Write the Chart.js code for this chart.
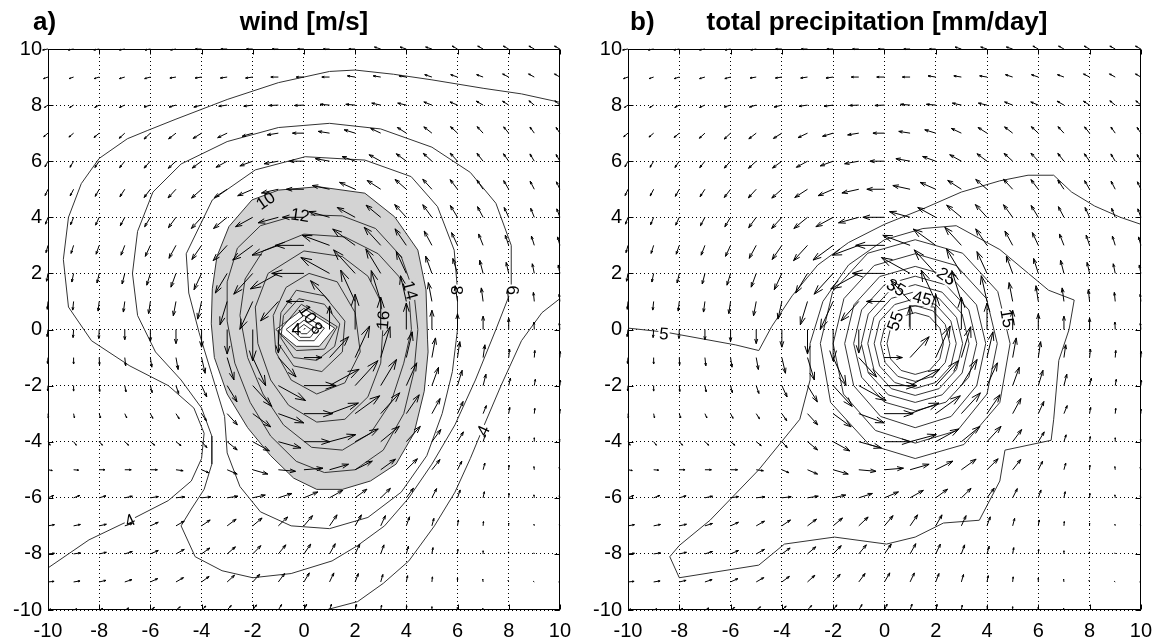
<!DOCTYPE html>
<html>
<head>
<meta charset="utf-8">
<script src="https://cdn.jsdelivr.net/npm/chart.js@4.4.0/dist/chart.umd.min.js"></script>
<style>
  body { margin: 0; background: #fff; }
  canvas { position: absolute; top: 0; }
  #panelA { left: 0; }
  #panelB { left: 580px; }
</style>
</head>
<body>
<canvas id="panelA" width="580" height="643"></canvas>
<canvas id="panelB" width="581" height="643"></canvas>
<script>
// tick labels / quiver grid
const tickValues = [-10, -8, -6, -4, -2, 0, 2, 4, 6, 8, 10];
const gridX = [-10, -9, -8, -7, -6, -5, -4, -3, -2, -1, 0, 1, 2, 3, 4, 5, 6, 7, 8, 9, 10];
const gridY = [10, 9, 8, 7, 6, 5, 4, 3, 2, 1, 0, -1, -2, -3, -4, -5, -6, -7, -8, -9, -10];

// wind components [m/s], rows = gridY (top to bottom), columns = gridX
const windU = [
  [-3, -3, -3, -3, -3, -3, -3.5, -3.5, -3.5, -3.5, -3.5, -3.5, -3.5, -3.5, -3.5, -3.5, -3, -3, -3, -3, -3],
  [-2.5, -2.5, -2.8, -3, -3.2, -3.4, -3.6, -3.8, -4, -4.2, -4.3, -4.3, -4.3, -4.2, -4.1, -4, -3.8, -3.6, -3.4, -3.2, -3],
  [-2, -2.2, -2.5, -3, -3.5, -3.8, -4.3, -4.7, -5, -5.2, -5.3, -5.3, -5.2, -5, -4.8, -4.5, -4.2, -3.8, -3.4, -3, -2.8],
  [-2.4, -2.6, -2.9, -3.1, -3.5, -4.1, -4.7, -5.3, -5.9, -6.2, -6.4, -6.3, -6.1, -5.6, -5, -4.5, -3.9, -3.3, -2.8, -2.4, -2.1],
  [-1.7, -2, -2.4, -2.9, -3.5, -4.3, -5.2, -6.2, -7.2, -7.9, -8.1, -7.9, -7.3, -6.5, -5.6, -4.8, -4.1, -3.4, -2.9, -2.4, -2.1],
  [-1.6, -1.9, -2.2, -2.7, -3.5, -4.4, -5.6, -7.1, -8.4, -9.4, -9.8, -9.6, -8.7, -7.6, -6.3, -5.1, -4.1, -3.4, -2.8, -2.3, -1.9],
  [-1.4, -1.7, -2, -2.5, -3.2, -4.2, -5.7, -7.6, -9.6, -11.3, -12, -11.5, -10, -8.2, -6.5, -5.1, -4, -3.1, -2.5, -2, -1.7],
  [-1.1, -1.4, -1.7, -2.1, -2.8, -3.9, -5.4, -7.8, -11.2, -14.7, -16, -15.2, -12.5, -9.2, -6.3, -4.3, -3.3, -2.5, -1.9, -1.6, -1.3],
  [-0.8, -1, -1.2, -1.5, -2, -2.8, -4.2, -6.6, -10.6, -15.6, -18, -16, -12, -8.3, -5.6, -3.5, -2.6, -1.9, -1.4, -1.1, -0.9],
  [-0.4, -0.5, -0.6, -0.8, -1, -1.5, -2.2, -4, -7.2, -9.9, -10, -10.6, -8.1, -5.3, -3.2, -2, -1.3, -1, -0.7, -0.5, -0.4],
  [-0.5, -0.3, -0.2, 0, 0, 0, 0, 0, 0, 0, 0.5, 0, 0, 0, 0, 0, 0, 0, 0, -0.2, -0.3],
  [-0.3, 0, 0.2, 0.5, 0.8, 1.2, 2, 3.8, 7.2, 9.9, 10, 10.6, 8.1, 5.2, 3.3, 2, 1.3, 1, 0.5, 0.3, 0.2],
  [-0.2, 0, 0.3, 0.7, 1, 1.5, 2.9, 5.5, 10.6, 15.2, 18, 16.5, 12.7, 8.8, 5.8, 3.7, 2.6, 1.6, 1, 0.6, 0.3],
  [0.2, 0.5, 0.8, 1.1, 1.4, 1.8, 2.7, 5.7, 10, 14.2, 16, 16.1, 13.7, 10.6, 7.2, 4.6, 3.1, 1.8, 0.6, 0.3, 0.1],
  [1.2, 1.5, 1.8, 2.1, 2.4, 2.8, 3, 5.6, 9.3, 12.6, 14.5, 14.6, 12.9, 10.4, 7.8, 5, 3.3, 1.2, 0.4, 0, -0.2],
  [2.4, 2.8, 3.2, 3.6, 3.9, 4, 4, 5.6, 8.4, 9.6, 10.6, 10.6, 9.6, 8.2, 6.2, 4.5, 2.4, 1, 0.2, -0.2, -0.4],
  [3.2, 3.5, 3.8, 4.2, 4.5, 4.8, 5.2, 6, 7, 7.6, 7.8, 7.4, 6.6, 5.4, 4, 2.6, 1.5, 0.7, 0.2, -0.2, -0.4],
  [3.6, 3.8, 4, 4.2, 4.4, 4.6, 4.8, 5, 5.2, 5.2, 4.8, 4.2, 3.5, 2.6, 1.8, 1.1, 0.5, 0.2, 0, -0.2, -0.4],
  [3.6, 3.8, 4, 4.2, 4.4, 4.6, 4.6, 4.6, 4.5, 4.2, 3.8, 3.2, 2.6, 1.8, 1.2, 0.6, 0.2, 0, -0.1, -0.2, -0.3],
  [3.4, 3.6, 3.8, 4, 4.1, 4.2, 4.2, 4.1, 3.9, 3.5, 3, 2.4, 1.8, 1.2, 0.7, 0.3, 0, -0.2, -0.3, -0.5, -0.6],
  [1.5, 1.8, 2, 2.2, 2.3, 2.4, 2.4, 2.3, 2.1, 1.8, 1.5, 1.1, 0.8, 0.5, 0.2, 0, -0.1, -0.2, -0.3, -0.4, -0.5]
];
const windV = [
  [-0.5, -0.5, -0.5, -0.5, -0.5, -0.5, 0, 0, 0, 0, 0, 0, 0, 1, 1, 1, 1.5, 1.5, 1.5, 1.5, 1.5],
  [-0.8, -0.8, -0.8, -0.8, -0.8, -0.5, -0.5, -0.5, -0.5, 0, 0, 0, 0.6, 0.6, 0.6, 1.2, 1.2, 1.2, 1.6, 1.6, 1.6],
  [-1.2, -1.2, -1.2, -1.2, -1, -1, -1, -0.6, -0.6, -0.2, -0.2, 0.4, 0.4, 1, 1, 1.6, 1.6, 2, 2, 2.2, 2.2],
  [-1.8, -2, -2.2, -2.6, -3, -2.9, -2.7, -2.3, -1.6, -0.9, 0, 0.9, 1.7, 2.4, 2.9, 3.2, 3.3, 3.3, 3.2, 3.1, 2.9],
  [-2.9, -3.1, -3.2, -3.3, -3.5, -3.6, -3.5, -3.1, -2.4, -1.3, 0, 1.3, 2.4, 3.3, 3.8, 4, 4.1, 4, 3.8, 3.7, 3.4],
  [-3.2, -3.4, -3.6, -3.8, -4.2, -4.4, -4.5, -4.2, -3.3, -1.9, 0, 1.9, 3.5, 4.5, 5, 5.1, 4.9, 4.7, 4.4, 4.1, 3.8],
  [-3.5, -3.8, -4, -4.3, -4.8, -5.3, -5.7, -5.7, -4.8, -2.8, 0, 2.9, 5, 6.2, 6.5, 6.4, 6, 5.4, 5, 4.6, 4.3],
  [-3.7, -4.1, -4.5, -5, -5.6, -6.6, -7.2, -7.8, -7.5, -5, 0, 5.1, 8.3, 9.2, 8.4, 7.3, 6.5, 5.8, 5.2, 4.7, 4.3],
  [-4, -4.4, -4.9, -5.4, -6, -7, -8.3, -10, -10.6, -7.9, 0, 8.1, 12, 12.5, 11.1, 8.8, 7.6, 6.7, 5.6, 4.9, 4.3],
  [-4, -4.4, -4.9, -5.4, -6.2, -7.3, -9, -11.9, -14.2, -9.9, 0, 10.6, 16, 15.7, 13.1, 9.6, 8, 6.9, 6, 4.6, 3.7],
  [-3.6, -4.1, -4.6, -5.2, -6, -7.2, -9, -12.5, -16, -12, 0.5, 12, 18, 16.5, 13.5, 9.8, 8, 6.8, 5.8, 3.8, 3.3],
  [-3, -3.3, -3.7, -4.2, -4.9, -6.1, -8, -11.4, -14.3, -9.9, 0, 10.6, 16.1, 15.7, 13.1, 10, 8.1, 6.5, 4.3, 3.6, 3.1],
  [-2.6, -2.8, -3, -3.2, -3.6, -4, -5.8, -8.3, -10.6, -7.6, 0, 8.3, 12.7, 13.3, 11.6, 9.3, 7.8, 5.8, 3.8, 3.2, 2.7],
  [-2.3, -2.2, -2.1, -2.2, -2.4, -2.6, -3.6, -5.7, -6.7, -4.7, 0, 5.4, 9.1, 10.6, 9.6, 7.7, 6.2, 4.1, 3.2, 2.7, 2.3],
  [-1.8, -1.8, -1.8, -1.8, -1.8, -2, -3, -4.2, -4.7, -3.2, 0, 3.6, 6.5, 7.8, 7.8, 6.2, 5, 3.5, 2.6, 2, 1.6],
  [-0.4, -0.2, 0, 0, 0, -0.5, -1.5, -2.2, -2.2, -0.8, 0.8, 2.8, 4.4, 5.4, 5.6, 5.2, 4.4, 3.4, 2.3, 1.6, 1.1],
  [1.2, 1.2, 1, 0.8, 0.6, 0.5, 0.5, 0.8, 1.4, 2.2, 3, 3.8, 4.4, 4.8, 4.9, 4.7, 4, 3.1, 2.2, 1.5, 1],
  [0.6, 0.7, 0.8, 1.2, 1.8, 2.4, 3, 3.4, 4, 4.5, 5.2, 5.6, 5.6, 5.2, 4.6, 3.8, 3, 2.2, 1.4, 0.8, 0.5],
  [0.3, 0.5, 0.8, 1.2, 1.7, 2.3, 3, 3.6, 4.2, 4.6, 5, 5.2, 5, 4.6, 3.9, 3.2, 2.4, 1.6, 1, 0.5, 0.3],
  [0.3, 0.5, 0.8, 1.2, 1.7, 2.2, 2.8, 3.4, 3.9, 4.3, 4.6, 4.6, 4.3, 3.8, 3.2, 2.6, 2, 1.4, 0.8, 0.3, 0],
  [0.5, 0.6, 0.8, 1, 1.3, 1.6, 2, 2.3, 2.6, 2.8, 3, 3, 2.8, 2.5, 2.1, 1.7, 1.3, 0.9, 0.5, 0.2, 0]
];

// wind speed contours (panel a), [x, y]
const wind4a = [[-10, -8.5], [-8.4, -7.5], [-6.8, -6.8], [-5.3, -6.1], [-4.4, -5.4], [-4, -4.6], [-3.9, -3.7], [-4.3, -2.8], [-5.3, -2], [-6.8, -1.3], [-8.3, -0.4], [-9.2, 0.8], [-9.4, 2.5], [-9.2, 4], [-8.7, 5.2], [-8, 6.1], [-6.9, 6.8], [-6.1, 7.1], [-5, 7.5], [-3, 8.2], [-1, 8.8], [1, 9.2], [2, 9.25], [3.5, 9.1], [5, 8.9], [7, 8.6], [8.5, 8.4], [10, 8.1]];
const wind4b = [[0.85, -10], [2.1, -9.7], [3.1, -9.05], [4.1, -8.25], [5.1, -7], [5.9, -5.8], [6.5, -4.6], [7, -3.5], [7.7, -2], [8.5, -0.4], [9.3, 0.6], [10, 1.1]];
const wind6 = [[-4.8, -7], [-4.25, -8.1], [-3.2, -8.6], [-2, -8.85], [-0.5, -8.7], [1.1, -8.25], [2.1, -7.7], [3.15, -7], [4.1, -6], [5, -4.8], [5.9, -3.4], [6.7, -1.8], [7.5, 0], [8.1, 1.4], [8.1, 3], [7.5, 4.5], [6.5, 5.6], [5, 6.5], [3, 7.15], [1, 7.35], [-1, 7.2], [-3, 6.7], [-4.8, 5.9], [-5.9, 4.9], [-6.5, 3.5], [-6.7, 2], [-6.5, 0.5], [-5.8, -0.8], [-4.8, -1.8], [-4, -2.8], [-3.6, -3.8], [-3.6, -4.8], [-3.9, -5.7], [-4.4, -6.4], [-4.8, -7]];
const wind8 = [[-4.6, 2.7], [-3.58, 4.62], [-1.9, 5.69], [0.05, 6.16], [2.38, 6.04], [4.19, 5.45], [5.22, 4.38], [5.87, 2.83], [6, 1.4], [6, 0], [5.8, -1.5], [5.4, -3], [4.8, -4.5], [3.8, -5.8], [2.5, -6.7], [1, -7.1], [-0.5, -7], [-1.7, -6.5], [-2.5, -5.6], [-3, -4.4], [-3.1, -3.1], [-3.6, -1.6], [-4.1, -0.1], [-4.5, 1.3], [-4.6, 2.7]];
const wind10 = [[0.56, 5.09], [-0.99, 4.97], [-2.03, 4.62], [-2.93, 3.67], [-3.4, 2.6], [-3.58, 1.45], [-3.62, 0.2], [-3.5, -1], [-3, -2.3], [-2.2, -3.5], [-1.3, -4.5], [-0.4, -5.3], [0.5, -5.7], [1.5, -5.7], [2.6, -5.4], [3.6, -4.8], [4.3, -3.7], [4.7, -2.2], [4.85, -0.8], [4.83, -0.37], [4.77, 1.41], [4.45, 2.83], [3.54, 4.02], [2.38, 4.86], [0.56, 5.09]];
const wind12 = [[-0.2, 4.1], [1.5, 4.05], [2.8, 3.6], [3.8, 2.6], [4.3, 1.3], [4.45, 0], [4.3, -1.5], [3.9, -3], [3.1, -4.3], [2, -5], [0.8, -5.1], [-0.3, -4.7], [-1.3, -3.8], [-2.1, -2.6], [-2.7, -1.2], [-3, 0.3], [-3, 1.7], [-2.6, 2.9], [-1.7, 3.7], [-0.2, 4.1]];
const wind14 = [[0, 3.4], [1.6, 3.3], [2.9, 2.7], [3.7, 1.9], [4.1, 1.3], [4.2, 0], [3.9, -1.2], [3.4, -2.6], [2.6, -3.7], [1.5, -4.3], [0.3, -4.2], [-0.8, -3.4], [-1.6, -2.3], [-2.2, -1], [-2.5, 0.5], [-2.3, 1.8], [-1.6, 2.8], [0, 3.4]];
const wind16 = [[0, 2.8], [1.5, 2.6], [2.5, 1.9], [3, 1], [3.1, 0.3], [3, -1.2], [2.5, -2.4], [1.6, -3.2], [0.5, -3.3], [-0.6, -2.7], [-1.3, -1.8], [-1.8, -0.5], [-1.9, 0.8], [-1.4, 2], [0, 2.8]];
const wind18 = [[0.2, 2], [1.3, 1.7], [2, 0.6], [2.2, -0.8], [1.6, -1.9], [0.5, -2.3], [-0.5, -1.8], [-1.1, -0.8], [-1.2, 0.5], [-0.7, 1.5], [0.2, 2]];
const wind16in = [[-0.3, 1.4], [0.8, 1.2], [1.6, 0.3], [1.5, -0.8], [0.7, -1.5], [-0.4, -1.3], [-1, -0.5], [-0.9, 0.6], [-0.3, 1.4]];
const wind14in = [[-0.2, 1.1], [0.8, 0.9], [1.4, 0.2], [1.2, -0.6], [0.5, -1.1], [-0.4, -1], [-0.9, -0.3], [-0.8, 0.5], [-0.2, 1.1]];
const wind12in = [[-0.1, 0.9], [1.3, 0.1], [0.8, -0.7], [-0.3, -0.75], [-1, -0.1], [-0.1, 0.9]];
const wind10in = [[-1.1, 0], [0, 0.75], [1.2, 0.05], [0.6, -0.6], [-0.3, -0.6], [-1.1, 0]];
const wind8in = [[-0.7, 0], [0, 0.5], [0.8, 0.05], [0.4, -0.4], [-0.2, -0.4], [-0.7, 0]];
const wind6in = [[-0.45, 0], [0, 0.33], [0.5, 0.02], [0.25, -0.28], [-0.15, -0.28], [-0.45, 0]];
const wind4in = [[-0.25, 0], [0, 0.18], [0.28, 0], [0.12, -0.15], [-0.1, -0.15], [-0.25, 0]];

// total precipitation contours (panel b), [x, y]
const prec5a = [[-10, 0.05], [-8.5, -0.1], [-7, -0.35], [-5.8, -0.55], [-4.9, -0.75], [-4.4, 0.1], [-3.6, 1.2], [-2.6, 2.3], [-1.4, 3.1], [0, 3.75], [1.5, 4.3], [3, 4.9], [4.5, 5.3], [5.6, 5.5], [6.6, 5.5], [7.3, 4.9], [8.2, 4.4], [9.2, 4], [10, 3.75]];
const prec5b = [[2.8, 3.7], [4.5, 2.85], [6.4, 1.4], [7.4, 1.05], [7.2, 0], [6.8, -1.1], [6.6, -3.2], [6.5, -3.95], [4.7, -4.3], [4.5, -5.4], [3.7, -6.8], [2.3, -6.9], [1.2, -7.4], [0.08, -7.65], [-1.95, -7.4], [-3.9, -7.65], [-4.9, -8.4], [-8, -8.85], [-8.37, -8.1], [-8, -7.7], [-6.8, -6.8], [-4.9, -5], [-3.3, -3.2], [-2.9, -1.8], [-2.9, -0.5], [-2.4, 1], [-1.4, 2.3], [0, 3.2], [1.5, 3.6], [2.8, 3.7]];
const prec15 = [[4.9, -0.5], [4.42, 1.35], [3.05, 2.72], [1.2, 3.2], [-0.65, 2.72], [-2.02, 1.35], [-2.5, -0.5], [-2.1, -2.6], [-0.6, -4.1], [1.2, -4.6], [3.1, -4.1], [4.5, -2.6], [4.9, -0.5]];
const prec20 = [[4.4, -0.5], [3.98, 1.1], [2.8, 2.28], [1.2, 2.7], [-0.4, 2.28], [-1.58, 1.1], [-2, -0.5], [-1.6, -2.3], [-0.35, -3.6], [1.2, -4.05], [2.85, -3.6], [4, -2.3], [4.4, -0.5]];
const prec25 = [[3.95, -0.5], [3.59, 0.88], [2.58, 1.89], [1.2, 2.25], [-0.18, 1.89], [-1.19, 0.88], [-1.55, -0.5], [-1.2, -2], [-0.15, -3.1], [1.2, -3.5], [2.6, -3.1], [3.6, -2], [3.95, -0.5]];
const prec30 = [[3.6, -0.5], [3.29, 0.7], [2.4, 1.59], [1.2, 1.9], [0, 1.59], [-0.89, 0.7], [-1.2, -0.5], [-0.89, -1.7], [0, -2.59], [1.2, -2.9], [2.4, -2.59], [3.29, -1.7], [3.6, -0.5]];
const prec35 = [[3.3, -0.5], [3.03, 0.55], [2.25, 1.33], [1.2, 1.6], [0.15, 1.33], [-0.63, 0.55], [-0.9, -0.5], [-0.63, -1.55], [0.15, -2.33], [1.2, -2.6], [2.25, -2.33], [3.03, -1.55], [3.3, -0.5]];
const prec40 = [[3.05, -0.5], [2.81, 0.43], [2.13, 1.11], [1.2, 1.35], [0.27, 1.11], [-0.41, 0.43], [-0.65, -0.5], [-0.41, -1.43], [0.27, -2.11], [1.2, -2.35], [2.13, -2.11], [2.81, -1.43], [3.05, -0.5]];
const prec45 = [[2.8, -0.5], [2.59, 0.3], [2, 0.89], [1.2, 1.1], [0.4, 0.89], [-0.19, 0.3], [-0.4, -0.5], [-0.19, -1.3], [0.4, -1.89], [1.2, -2.1], [2, -1.89], [2.59, -1.3], [2.8, -0.5]];
const prec50 = [[2.55, -0.5], [2.37, 0.18], [1.88, 0.67], [1.2, 0.85], [0.52, 0.67], [0.03, 0.18], [-0.15, -0.5], [0.03, -1.18], [0.52, -1.67], [1.2, -1.85], [1.88, -1.67], [2.37, -1.18], [2.55, -0.5]];
const prec55 = [[2.3, -0.5], [2.16, 0.05], [1.75, 0.46], [1.2, 0.6], [0.65, 0.46], [0.24, 0.05], [0.1, -0.5], [0.24, -1.05], [0.65, -1.46], [1.2, -1.6], [1.75, -1.46], [2.16, -1.05], [2.3, -0.5]];
const prec60 = [[0.97, 0.1], [0.97, 0.85], [1.95, 0.8], [2, 0.1]];

// contour labels: text, x, y, rotation (deg), background
const windLabels = [
  ['4', -6.8, -6.8, -25, 'w'], ['4', 7.0, -3.6, -65, 'w'], ['6', 8.15, 1.4, 90, 'w'], ['8', 5.95, 1.4, 90, 'w'],
  ['10', -1.5, 4.6, -35, ''], ['12', -0.15, 4.08, 8, 'g'], ['14', 4.15, 1.4, 75, 'g'], ['16', 3.09, 0.34, -85, 'g'],
  ['10', 0.15, 0.55, 55, ''], ['8', 0.5, 0.05, 40, ''], ['4', -0.3, 0.0, 0, '']
];
const precLabels = [
  ['5', -8.6, -0.15, 5, 'w'], ['15', 4.8, 0.4, 80, 'w'], ['25', 2.42, 1.9, 35, 'w'],
  ['35', 0.45, 1.5, 30, 'w'], ['45', 1.47, 1.12, 15, 'w'], ['55', 0.42, 0.3, -70, 'w']
];

const ARROW_SCALE = 0.07;   // data units per m/s
const LINE = '#333';
const SHADE = '#d3d3d3';
Chart.defaults.font.family = '"Liberation Sans", Arial, Helvetica, sans-serif';

function line(pts, fillColor, order) {
  return {
    data: pts.map(p => ({ x: p[0], y: p[1] })),
    borderColor: LINE,
    borderWidth: 1,
    pointRadius: 0,
    tension: 0,
    fill: fillColor ? 'shape' : false,
    backgroundColor: fillColor || 'transparent',
    order: order || 1
  };
}

const panelPlugin = {
  id: 'panel',
  afterDatasetsDraw(chart, args, opts) {
    const ctx = chart.ctx;
    const xs = chart.scales.x, ys = chart.scales.y;
    ctx.save();
    // contour labels
    ctx.font = '17px "Liberation Sans", Arial, sans-serif';
    ctx.textAlign = 'center';
    ctx.textBaseline = 'middle';
    opts.labels.forEach(([t, lx, ly, ang, bg]) => {
      ctx.save();
      ctx.translate(xs.getPixelForValue(lx), ys.getPixelForValue(ly));
      ctx.rotate(ang * Math.PI / 180);
      if (bg) {
        const w = ctx.measureText(t).width;
        ctx.fillStyle = bg === 'g' ? SHADE : '#fff';
        ctx.fillRect(-w / 2 - 1, -8, w + 2, 16);
      }
      ctx.fillStyle = '#000';
      ctx.fillText(t, 0, 1);
      ctx.restore();
    });
    // quiver arrows
    ctx.strokeStyle = '#000';
    ctx.lineWidth = 1;
    ctx.beginPath();
    gridY.forEach((gy, j) => {
      gridX.forEach((gx, i) => {
        const u = windU[j][i], v = windV[j][i];
        const x0 = xs.getPixelForValue(gx), y0 = ys.getPixelForValue(gy);
        const x1 = xs.getPixelForValue(gx + u * ARROW_SCALE), y1 = ys.getPixelForValue(gy + v * ARROW_SCALE);
        const dx = x1 - x0, dy = y1 - y0;
        ctx.moveTo(x0, y0);
        ctx.lineTo(x1, y1);
        ctx.moveTo(x1 - 0.33 * (dx + 0.33 * dy), y1 - 0.33 * (dy - 0.33 * dx));
        ctx.lineTo(x1, y1);
        ctx.lineTo(x1 - 0.33 * (dx - 0.33 * dy), y1 - 0.33 * (dy + 0.33 * dx));
      });
    });
    ctx.stroke();
    ctx.restore();
  },
  afterDraw(chart, args, opts) {
    const ctx = chart.ctx;
    const a = chart.chartArea;
    const xs = chart.scales.x, ys = chart.scales.y;
    ctx.save();
    ctx.strokeStyle = '#000';
    ctx.lineWidth = 1;
    const L = Math.round(a.left) + 0.5, R = Math.round(a.right) - 0.5;
    const T = Math.round(a.top) + 0.5, B = Math.round(a.bottom) - 0.5;
    ctx.strokeRect(L, T, R - L, B - T);
    ctx.beginPath();
    tickValues.forEach(v => {
      const px = Math.round(xs.getPixelForValue(v)) + 0.5;
      ctx.moveTo(px, B); ctx.lineTo(px, B - 5);
      ctx.moveTo(px, T); ctx.lineTo(px, T + 5);
      const py = Math.round(ys.getPixelForValue(v)) + 0.5;
      ctx.moveTo(L, py); ctx.lineTo(L + 5, py);
      ctx.moveTo(R, py); ctx.lineTo(R - 5, py);
    });
    ctx.stroke();
    // panel titles
    ctx.fillStyle = '#000';
    ctx.font = 'bold 26px "Liberation Sans", Arial, sans-serif';
    ctx.textBaseline = 'alphabetic';
    ctx.textAlign = 'left';
    ctx.fillText(opts.letter, opts.letterX, 30);
    ctx.textAlign = 'center';
    ctx.fillText(opts.title, opts.titleX, 30);
    ctx.restore();
  }
};

function axis(isY) {
  return {
    type: 'linear',
    min: -10,
    max: 10,
    afterBuildTicks: s => { s.ticks = tickValues.map(v => ({ value: v })); },
    afterFit: s => { if (isY) s.width = 48; else s.height = 33; },
    grid: { color: '#000', lineWidth: 1, drawTicks: false },
    border: { display: false, dash: [1, 3] },
    ticks: { color: '#000', font: { size: 20 }, padding: isY ? 6 : 9, maxRotation: 0, autoSkip: false }
  };
}

function makePanel(id, datasets, labels, letter, letterX, title, titleX, padRight) {
  new Chart(document.getElementById(id), {
    type: 'line',
    data: { datasets },
    options: {
      responsive: false,
      animation: false,
      events: [],
      layout: { padding: { top: 49, right: padRight, left: 0, bottom: 0 } },
      scales: { x: axis(false), y: axis(true) },
      plugins: {
        legend: { display: false },
        tooltip: { enabled: false },
        panel: { labels, letter, letterX, title, titleX }
      }
    },
    plugins: [panelPlugin]
  });
}

makePanel('panelA', [
  line(wind10, SHADE, 10),
  line(wind10in, '#fff', 9),
  line(wind4a), line(wind4b), line(wind6), line(wind8), line(wind12), line(wind14),
  line(wind16), line(wind18), line(wind16in), line(wind14in), line(wind12in),
  line(wind8in), line(wind6in), line(wind4in)
], windLabels, 'a)', 33, 'wind [m/s]', 304, 17);

makePanel('panelB', [
  line(prec5a), line(prec5b), line(prec15), line(prec20), line(prec25), line(prec30),
  line(prec35), line(prec40), line(prec45), line(prec50), line(prec55), line(prec60)
], precLabels, 'b)', 50, 'total precipitation [mm/day]', 297, 19);
</script>
</body>
</html>
